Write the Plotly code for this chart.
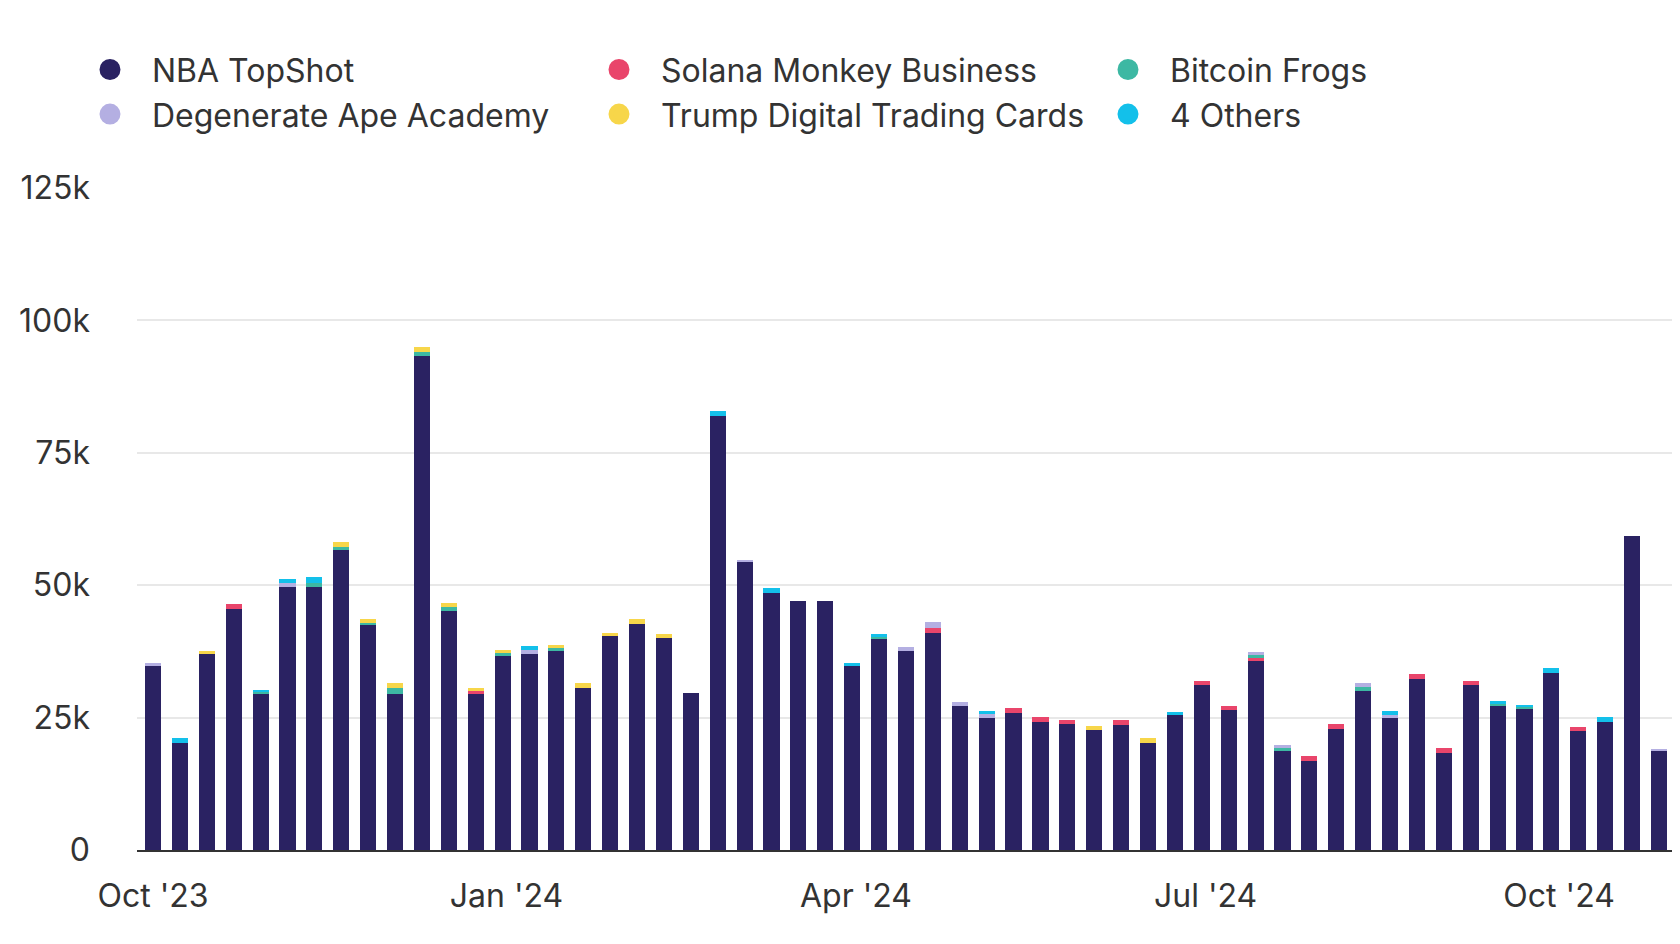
import pandas as pd
import plotly.graph_objects as go

# Weekly periods (57 weeks, starting 1 Oct 2023)
weeks = pd.date_range("2023-10-01", periods=57, freq="7D")

nba = [34800, 20200, 37000, 45500, 29500, 49700, 49700, 56600, 42400, 29500,
       93300, 45200, 29400, 36700, 37000, 37600, 30600, 40400, 42700, 40000,
       29700, 81900, 54300, 48600, 47100, 47100, 34800, 39900, 37600, 40900,
       27200, 24900, 25900, 24100, 23700, 22600, 23600, 20200, 25400, 31100,
       26400, 35700, 18700, 16900, 22900, 30100, 24900, 32300, 18400, 31100,
       27200, 26600, 33400, 22500, 24100, 59300, 18700]
solana = [0, 0, 0, 1000, 0, 0, 0, 0, 0, 0,
          0, 0, 600, 0, 0, 0, 0, 0, 0, 0,
          0, 0, 0, 0, 0, 0, 0, 0, 0, 1100,
          0, 0, 1000, 1000, 900, 0, 1000, 0, 0, 800,
          800, 600, 0, 800, 900, 0, 0, 1000, 900, 800,
          0, 0, 0, 800, 0, 0, 0]
frogs = [0, 0, 0, 0, 400, 0, 800, 600, 500, 1000,
         800, 600, 0, 500, 0, 600, 0, 0, 0, 0,
         0, 0, 0, 0, 0, 0, 0, 300, 0, 0,
         0, 0, 0, 0, 0, 0, 0, 0, 0, 0,
         0, 500, 500, 0, 0, 700, 0, 0, 0, 0,
         300, 400, 0, 0, 0, 0, 0]
degen = [500, 0, 0, 0, 0, 700, 0, 0, 0, 0,
         0, 0, 0, 0, 800, 0, 0, 0, 0, 0,
         0, 0, 500, 0, 0, 0, 0, 0, 800, 1100,
         800, 700, 0, 0, 0, 0, 0, 0, 0, 0,
         0, 500, 600, 0, 0, 700, 600, 0, 0, 0,
         0, 0, 0, 0, 0, 0, 400]
trump = [0, 0, 600, 0, 0, 0, 0, 900, 700, 1000,
         900, 800, 500, 500, 0, 600, 900, 600, 900, 700,
         0, 0, 0, 0, 0, 0, 0, 0, 0, 0,
         0, 0, 0, 0, 0, 800, 0, 1000, 0, 0,
         0, 0, 0, 0, 0, 0, 0, 0, 0, 0,
         0, 0, 0, 0, 0, 0, 0]
others = [0, 1000, 0, 0, 400, 700, 1100, 0, 0, 0,
          0, 0, 0, 0, 700, 0, 0, 0, 0, 0,
          0, 900, 0, 800, 0, 0, 600, 500, 0, 0,
          0, 600, 0, 0, 0, 0, 0, 0, 700, 0,
          0, 0, 0, 0, 0, 0, 700, 0, 0, 0,
          600, 400, 900, 0, 1000, 0, 0]

series_names = ["NBA TopShot", "Solana Monkey Business", "Bitcoin Frogs",
                "Degenerate Ape Academy", "Trump Digital Trading Cards", "4 Others"]
series_values = [nba, solana, frogs, degen, trump, others]
series_colors = ["#2a2262", "#e9456b", "#3db8a3", "#b4afe2", "#f7d64a", "#13c0ea"]

y_tickvals = [0, 25000, 50000, 75000, 100000, 125000]
y_ticktext = ["0", "25k", "50k", "75k", "100k", "125k"]
x_tickvals = ["2023-10-01", "2024-01-01", "2024-04-01", "2024-07-01", "2024-10-01"]
x_ticktext = ["Oct '23", "Jan '24", "Apr '24", "Jul '24", "Oct '24"]

FONT = "Inter, Roboto, sans-serif"
DAY_MS = 86400000

fig = go.Figure()
for name, vals, color in zip(series_names, series_values, series_colors):
    fig.add_trace(go.Bar(
        x=weeks, y=vals, name=name, showlegend=False,
        marker=dict(color=color, line=dict(width=0)),
        width=4.2 * DAY_MS,
    ))
# legend entries with round markers
for name, color in zip(series_names, series_colors):
    fig.add_trace(go.Scatter(
        x=[None], y=[None], mode="markers", name=name,
        marker=dict(color=color, size=16, symbol="circle",
                    line=dict(color=color, width=5)),
    ))

fig.update_layout(
    width=1672, height=936,
    barmode="stack",
    paper_bgcolor="white", plot_bgcolor="white",
    margin=dict(l=129, r=6, t=179.5, b=94, autoexpand=False),
    font=dict(family=FONT, size=32, color="#333333"),
    showlegend=True,
    legend=dict(
        orientation="h", traceorder="normal",
        x=-0.0449, xanchor="left", y=1.2203, yanchor="top",
        font=dict(family=FONT, size=32, color="#333333"),
        itemwidth=74, entrywidth=420, entrywidthmode="pixels",
        tracegroupgap=0,
        bgcolor="rgba(0,0,0,0)", borderwidth=0,
        itemclick=False, itemdoubleclick=False,
    ),
    xaxis=dict(
        type="date",
        range=["2023-09-26 20:00", "2024-10-30 22:00"],
        tickmode="array", tickvals=x_tickvals, ticktext=x_ticktext,
        showgrid=False, zeroline=False,
        showline=True, linecolor="#333333", linewidth=2,
        ticks="", ticklabelstandoff=17,
        tickfont=dict(family=FONT, size=32, color="#333333"),
    ),
    yaxis=dict(
        range=[0, 125000],
        tickmode="array", tickvals=y_tickvals, ticktext=y_ticktext,
        showgrid=True, gridcolor="#e8e8e8", gridwidth=1.5,
        zeroline=False, showline=False, ticks="",
        ticklabelstandoff=46,
        tickfont=dict(family=FONT, size=32, color="#333333"),
    ),
)

fig.write_html("out.html")
